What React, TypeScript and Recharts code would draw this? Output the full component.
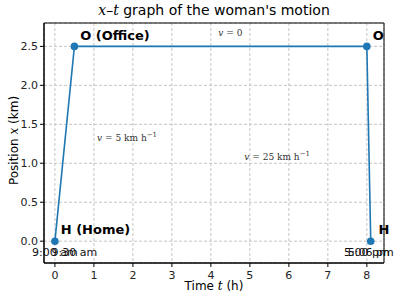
import React from 'react'
import {
    LineChart, Line, XAxis, YAxis, CartesianGrid, ReferenceDot, ReferenceArea
} from 'recharts'

// times (h) and positions (km)
const times = [0, 0.5, 8, 8.1]
const positions = [0, 2.5, 2.5, 0]
const xTicks = [0, 1, 2, 3, 4, 5, 6, 7, 8]
const yTicks = [0, 0.5, 1, 1.5, 2, 2.5]
const xDomain = [-0.28, 8.44]
const yDomain = [-0.28, 2.8]

// point labels
const placeNames = ['O (Office)', 'O', 'H (Home)', 'H']
const placeX = [0.65, 8.15, 0.15, 8.3]
const placeY = [2.65, 2.65, 0.15, 0.15]

const clockNames = ['9:00 am', '9:30 am', '5:00 pm', '5:06 pm']
const clockX = [0, 0.5, 8, 8.1]
const clockY = [-0.14, -0.14, -0.14, -0.14]

// speed labels: main part and unit exponent
const speedNames = ['0', '5', '25']
const speedUnits = [false, true, true]
const speedX = [4.5, 1.85, 5.7]
const speedY = [2.67, 1.33, 1.08]

const data = times.map((t, i) => ({ t, x: positions[i] }))

const sans = 'DejaVu Sans, sans-serif'
const serif = 'DejaVu Serif, serif'

export default function App() {
    return (
        <div style={{ position: 'absolute', left: 0, top: 0, width: 400, height: 301, background: '#fff' }}>
            <div style={{ position: 'absolute', top: 2, left: 44, width: 340, textAlign: 'center', fontFamily: sans, fontSize: 14, color: '#000' }}>
                <i style={{ fontFamily: serif }}>x</i>–<i style={{ fontFamily: serif }}>t</i> graph of the woman's motion
            </div>
            <LineChart width={400} height={301} data={data} margin={{ top: 23, right: 16, bottom: 0, left: 0 }}>
                <CartesianGrid strokeDasharray="3 2" stroke="#c4c4c4" />
                <XAxis
                    dataKey="t" type="number" domain={xDomain} ticks={xTicks} allowDataOverflow
                    height={38} tickSize={4} stroke="#000"
                    tick={{ fill: '#222', fontSize: 11, fontFamily: sans, dy: 2 }}
                />
                <YAxis
                    dataKey="x" type="number" domain={yDomain} ticks={yTicks} allowDataOverflow
                    width={44} tickSize={4} stroke="#000"
                    tickFormatter={(v: number) => v.toFixed(1)}
                    tick={{ fill: '#222', fontSize: 11, fontFamily: sans }}
                />
                <ReferenceArea x1={xDomain[0]} x2={xDomain[1]} y1={yDomain[0]} y2={yDomain[1]} fill="none" stroke="#000" strokeWidth={1} ifOverflow="visible" />
                <Line
                    dataKey="x" stroke="#1f77b4" strokeWidth={1.6}
                    dot={{ r: 3, fill: '#1f77b4', stroke: '#1f77b4' }}
                    isAnimationActive={false}
                />
                {placeNames.map((name, i) => (
                    <ReferenceDot
                        key={'p' + i} x={placeX[i]} y={placeY[i]} r={0} ifOverflow="visible"
                        shape={(p: any) => (
                            <text x={p.cx} y={p.cy} dy={5} fontFamily={sans} fontSize={13} fontWeight="bold" fill="#000">{name}</text>
                        )}
                    />
                ))}
                {clockNames.map((name, i) => (
                    <ReferenceDot
                        key={'c' + i} x={clockX[i]} y={clockY[i]} r={0} ifOverflow="visible"
                        shape={(p: any) => (
                            <text x={p.cx} y={p.cy} dy={4} textAnchor="middle" fontFamily={sans} fontSize={11} fill="#111">{name}</text>
                        )}
                    />
                ))}
                {speedNames.map((s, i) => (
                    <ReferenceDot
                        key={'s' + i} x={speedX[i]} y={speedY[i]} r={0} ifOverflow="visible"
                        shape={(p: any) => (
                            <text x={p.cx} y={p.cy} dy={3} textAnchor="middle" fontFamily={serif} fontSize={9} fill="#333">
                                <tspan fontStyle="italic">v</tspan>
                                <tspan> = {s}</tspan>
                                {speedUnits[i] && <tspan> km h</tspan>}
                                {speedUnits[i] && <tspan dy={-4} fontSize={7}>−1</tspan>}
                            </text>
                        )}
                    />
                ))}
            </LineChart>
            <div style={{ position: 'absolute', top: 279, left: 44, width: 340, textAlign: 'center', fontFamily: sans, fontSize: 12, lineHeight: '15px', color: '#000' }}>
                Time <i style={{ fontFamily: serif }}>t</i> (h)
            </div>
            <div style={{ position: 'absolute', top: 133, left: -46, width: 120, textAlign: 'center', fontFamily: sans, fontSize: 12, lineHeight: '15px', color: '#000', transform: 'rotate(-90deg)' }}>
                Position <i style={{ fontFamily: serif }}>x</i> (km)
            </div>
        </div>
    )
}
